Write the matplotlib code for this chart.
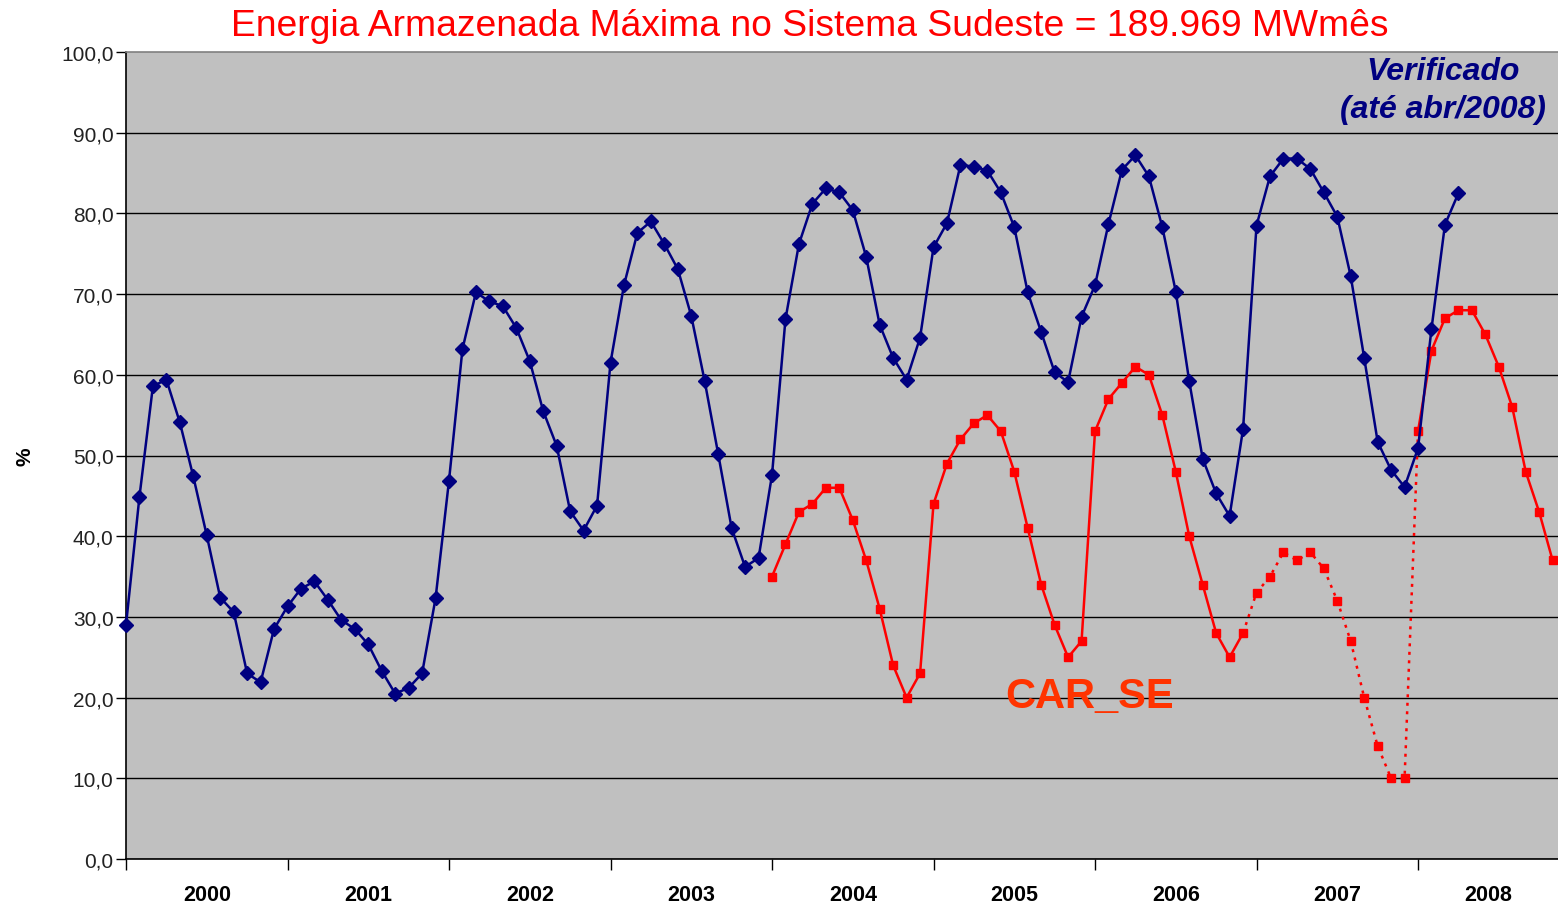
"""Energia armazenada no Sistema Sudeste: verificado (2000-abr/2008) vs. CAR_SE."""

import matplotlib

matplotlib.use("Agg")
import matplotlib.pyplot as plt
from matplotlib.ticker import FixedLocator, FuncFormatter

plt.rcParams["font.family"] = ["Liberation Sans", "DejaVu Sans"]

YEARS = [2000, 2001, 2002, 2003, 2004, 2005, 2006, 2007, 2008]

# armazenamento verificado (% da EAR max), jan/2000 .. abr/2008
VERIFICADO = [
    29.0, 44.9, 58.6, 59.4, 54.1, 47.4, 40.1, 32.4, 30.6, 23.0, 21.9, 28.5,
    31.3, 33.5, 34.4, 32.1, 29.6, 28.5, 26.6, 23.3, 20.5, 21.2, 23.0, 32.3,
    46.9, 63.2, 70.2, 69.1, 68.5, 65.8, 61.7, 55.5, 51.2, 43.1, 40.7, 43.8,
    61.5, 71.1, 77.6, 79.0, 76.2, 73.1, 67.3, 59.2, 50.2, 41.0, 36.2, 37.3,
    47.6, 66.9, 76.2, 81.2, 83.1, 82.6, 80.4, 74.6, 66.2, 62.1, 59.4, 64.6,
    75.8, 78.8, 86.0, 85.8, 85.3, 82.6, 78.3, 70.2, 65.3, 60.3, 59.1, 67.2,
    71.1, 78.7, 85.4, 87.2, 84.6, 78.3, 70.3, 59.2, 49.6, 45.3, 42.5, 53.3,
    78.5, 84.6, 86.8, 86.8, 85.5, 82.6, 79.6, 72.2, 62.1, 51.7, 48.2, 46.1,
    50.9, 65.7, 78.6, 82.5,
]

# curva de aversao a risco, jan/2004 .. nov/2008
CAR_START = 48
CAR_SE = [
    35, 39, 43, 44, 46, 46, 42, 37, 31, 24, 20, 23,
    44, 49, 52, 54, 55, 53, 48, 41, 34, 29, 25, 27,
    53, 57, 59, 61, 60, 55, 48, 40, 34, 28, 25, 28,
    33, 35, 38, 37, 38, 36, 32, 27, 20, 14, 10, 10,
    53, 63, 67, 68, 68, 65, 61, 56, 48, 43, 37,
]
# trecho pontilhado (mes 83 .. mes 96)
DOTTED_FROM = 83
DOTTED_TO = 96

NAVY = "#000080"
RED = "#FF0000"
X_MAX = 106.4


def main():
    fig = plt.figure(figsize=(15.58, 9.04), dpi=100)
    ax = fig.add_axes([126 / 1558, 44 / 904, 1432 / 1558, 807 / 904])
    ax.set_facecolor("#C0C0C0")

    months = list(range(len(VERIFICADO)))
    ax.plot(months, VERIFICADO, color=NAVY, lw=1.8, marker="D", markersize=7.5,
            clip_on=False, zorder=4)

    car_x = list(range(CAR_START, CAR_START + len(CAR_SE)))
    pairs = list(zip(car_x, CAR_SE))
    solid_a = [p for p in pairs if p[0] <= DOTTED_FROM]
    dotted = [p for p in pairs if DOTTED_FROM <= p[0] <= DOTTED_TO]
    solid_b = [p for p in pairs if p[0] >= DOTTED_TO]
    for seg, ls in ((solid_a, "-"), (dotted, (0, (1.2, 2.2))), (solid_b, "-")):
        ax.plot([p[0] for p in seg], [p[1] for p in seg], color=RED, lw=1.8,
                linestyle=ls, zorder=3)
    ax.plot(car_x, CAR_SE, linestyle="none", marker="s", markersize=5.2,
            color=RED, zorder=3, clip_on=False)

    ax.set_xlim(0, X_MAX)
    ax.set_ylim(0, 100)

    ax.yaxis.set_major_locator(FixedLocator(range(0, 101, 10)))
    ax.yaxis.set_major_formatter(
        FuncFormatter(lambda v, _: f"{v:.1f}".replace(".", ","))
    )
    ax.tick_params(axis="y", direction="out", length=7, width=1, colors="black",
                   labelsize=15, labelcolor="#222222", pad=2)
    ax.grid(True, axis="y", color="black", lw=1.0)
    ax.yaxis.get_gridlines()[-1].set_visible(False)

    year_starts = [12 * k for k in range(len(YEARS))]
    label_pos = [(s + min(s + 12, X_MAX)) / 2 for s in year_starts]
    ax.set_xticks(year_starts)
    ax.set_xticklabels([])
    ax.set_xticks(label_pos, minor=True)
    ax.set_xticklabels([str(y) for y in YEARS], minor=True, fontsize=15.5,
                       fontweight="bold")
    ax.tick_params(axis="x", which="major", direction="out", length=8, width=1)
    ax.tick_params(axis="x", which="minor", length=0, pad=18)

    for side in ("left", "bottom"):
        ax.spines[side].set_color("black")
        ax.spines[side].set_linewidth(1.2)
    ax.spines["top"].set_color("#808080")
    ax.spines["top"].set_linewidth(1.2)
    ax.spines["right"].set_visible(False)

    fig.text(810 / 1558, 1 - 27 / 904,
             "Energia Armazenada Máxima no Sistema Sudeste = 189.969 MWmês",
             color=RED, fontsize=26.8, ha="center", va="center")
    fig.text(1443 / 1558, 1 - 72 / 904, "Verificado", color=NAVY, fontsize=23,
             fontweight="bold", fontstyle="italic", ha="center", va="center")
    fig.text(1443 / 1558, 1 - 110 / 904, "(até abr/2008)", color=NAVY,
             fontsize=23, fontweight="bold", fontstyle="italic", ha="center",
             va="center")
    ax.text(71.6, 20.2, "CAR_SE", color="#FF3300", fontsize=30,
            fontweight="bold", ha="center", va="center")
    fig.text(25 / 1558, 1 - 457 / 904, "%", rotation=90, fontsize=15,
             fontweight="bold", ha="center", va="center")

    fig.savefig("out.png", dpi=100)


if __name__ == "__main__":
    main()
